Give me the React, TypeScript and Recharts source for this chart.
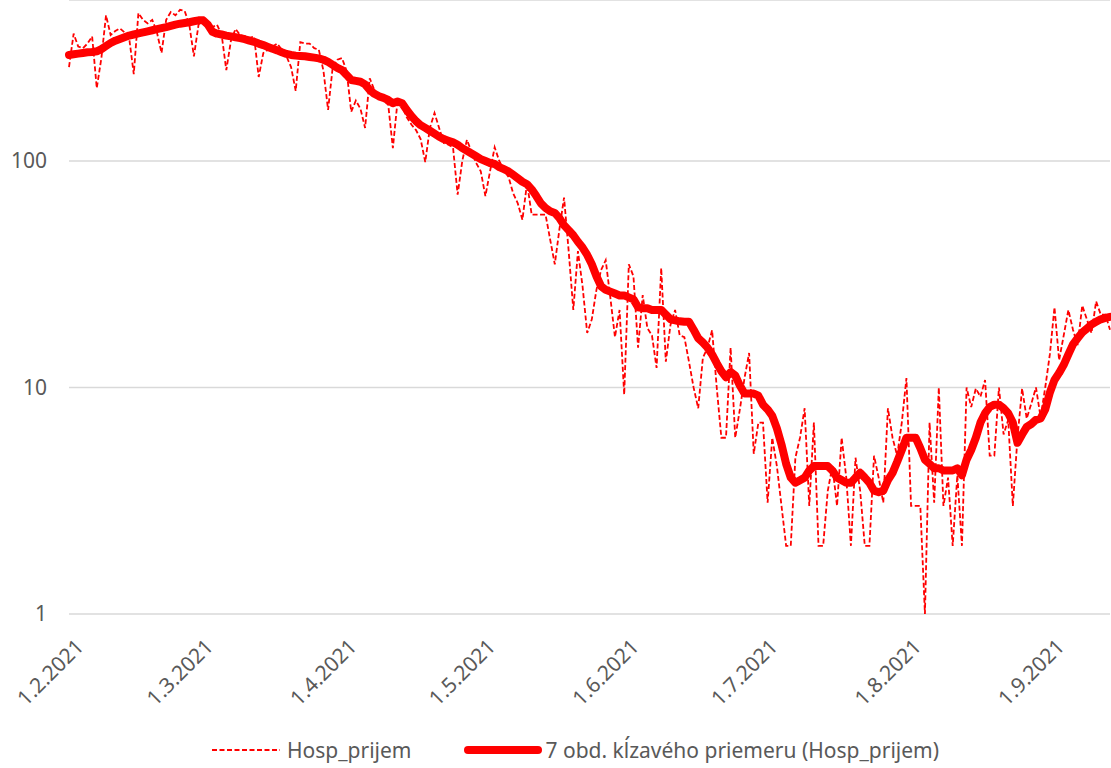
import { LineChart, Line, XAxis, YAxis, CartesianGrid } from "recharts";

// 1.2.2021 = day 0
const tickDays = [0, 28, 59, 89, 120, 150, 181, 212];
const tickLabels = ["1.2.2021", "1.3.2021", "1.4.2021", "1.5.2021", "1.6.2021", "1.7.2021", "1.8.2021", "1.9.2021"];
const yTicks = [1, 10, 100];

const hospPrijem = [
  260, 365, 320, 315, 330, 355, 210, 285, 440, 360, 375, 385, 370, 350, 242, 450, 420, 405, 420, 370,
  300, 420, 455, 440, 465, 460, 400, 290, 400, 428, 400, 390, 400, 360, 252, 340, 383, 360, 355, 350,
  355, 235, 300, 310, 320, 330, 310, 290, 260, 204, 335, 330, 330, 315, 310, 250, 168, 260, 280, 285,
  250, 165, 185, 170, 140, 232, 206, 195, 185, 177, 114, 183, 175, 156, 145, 137, 125, 99, 140, 163,
  140, 120, 118, 115, 71, 100, 124, 110, 98, 90, 70, 90, 115, 100, 91, 85, 72, 65, 55, 80,
  58, 58, 58, 58, 45, 35, 50, 69, 40, 22, 40, 28, 17.4, 20, 27, 33, 36.5, 25, 16.7, 22,
  9.3, 35, 31, 15, 25.6, 18.3, 17, 12.2, 33.7, 13, 18.9, 22, 17, 16.7, 13, 10, 8.1, 13.5, 15, 17.9,
  10, 6, 6, 15, 6, 8, 11, 14.2, 5.1, 7, 7, 3.1, 6, 4.5, 3, 2, 2, 4.9, 6, 8.1,
  3, 7, 2, 2, 3.5, 4.5, 3, 6, 4, 2, 4.9, 3.5, 2, 2, 5, 4, 3.1, 8.1, 6, 5,
  7, 11, 3, 3, 3, 1, 7, 3.1, 10, 3, 4, 2, 4.1, 2, 10, 8.2, 9.9, 9.1, 10.8, 5,
  5, 10, 6.2, 7.2, 3, 6, 9.9, 7.3, 8.5, 10, 7.4, 10, 14, 22.6, 13.2, 17, 22, 18, 15.4, 23,
  20, 17.4, 24, 21, 21, 18,
];

const klzavyPriemer = [
  294, 296, 298, 300, 302, 303, 305, 312, 322, 332, 340, 346, 352, 358, 362, 366, 370, 374, 378, 382,
  386, 390, 395, 400, 404, 407, 410, 414, 418, 418, 400, 372, 365, 362, 358, 355, 352, 349, 345, 340,
  336, 330, 325, 319, 313, 308, 302, 297, 294, 292, 291, 290, 288, 286, 284, 280, 274, 266, 258, 252,
  240, 228, 226, 224, 218, 206, 198, 193, 190, 186, 180, 183, 180, 168, 158, 150, 144, 140, 136, 132,
  128, 125, 123, 121, 118, 114, 111, 108, 105, 102, 100, 98, 97, 94, 92, 90, 87, 84, 81, 79,
  75, 70, 65, 62, 60, 59, 56, 52, 49.5, 47, 44, 41.5, 38.5, 35, 31, 28, 27, 26.5, 26, 25.5,
  25.5, 25, 24.5, 22.6, 22.4, 22.4, 22, 22, 22, 21, 20, 19.8, 19.6, 19.5, 19.5, 18, 16.5, 15.8, 15, 14,
  12.8, 11.8, 11.1, 11.7, 11.3, 10.2, 9.4, 9.4, 9.4, 9.2, 8.4, 8.0, 7.5, 6.6, 5.6, 4.6, 4.0, 3.8, 3.9, 4.0,
  4.3, 4.5, 4.5, 4.5, 4.5, 4.3, 4.0, 3.9, 3.8, 3.8, 4.0, 4.2, 4.0, 3.8, 3.5, 3.45, 3.5, 3.9, 4.2, 4.7,
  5.3, 6.0, 6.0, 6.0, 5.4, 4.8, 4.6, 4.4, 4.4, 4.3, 4.3, 4.3, 4.4, 4.1, 4.8, 5.3, 6.0, 7.0, 7.7, 8.2,
  8.4, 8.4, 8.1, 7.7, 7.0, 5.7, 6.2, 6.7, 6.9, 7.2, 7.3, 8.0, 9.5, 10.8, 11.6, 12.6, 14.0, 15.5, 16.5, 17.5,
  18.2, 19.0, 19.5, 20.0, 20.3, 20.5,
];

const data = hospPrijem.map((v, i) => ({ day: i, hosp: v, avg: klzavyPriemer[i] }));

const FONT = "'Noto Sans', sans-serif";
const TEXT = "#595959";
const RED = "#ff0000";

function DateTick(props: any) {
  const { x, y, payload } = props;
  const label = tickLabels[tickDays.indexOf(payload.value)] ?? "";
  const ax = x + 16;
  const ay = y + 26;
  return (
    <text
      x={ax}
      y={ay}
      transform={`rotate(-45, ${ax}, ${ay})`}
      textAnchor="end"
      fill={TEXT}
      fontSize={21}
      fontFamily={FONT}
    >
      {label}
    </text>
  );
}

function ValueTick(props: any) {
  const { x, y, payload } = props;
  return (
    <text x={x} y={y} dy="0.35em" textAnchor="end" fill={TEXT} fontSize={21} fontFamily={FONT}>
      {payload.value}
    </text>
  );
}

export default function App() {
  return (
    <div style={{ position: "absolute", left: 0, top: 0, width: 1111, height: 768, background: "#fff" }}>
      <LineChart width={1111} height={768} data={data} margin={{ top: 0, right: 1, bottom: 0, left: 0 }}>
        <CartesianGrid vertical={false} stroke="#d9d9d9" strokeWidth={1.5} />
        <XAxis
          dataKey="day"
          type="number"
          domain={[0, 225]}
          ticks={tickDays}
          interval={0}
          height={154}
          axisLine={false}
          tickLine={false}
          tick={<DateTick />}
        />
        <YAxis
          type="number"
          scale="log"
          domain={[1, 514]}
          allowDataOverflow
          ticks={yTicks}
          interval={0}
          width={69}
          axisLine={false}
          tickLine={false}
          tickMargin={16}
          tick={<ValueTick />}
        />
        <Line
          type="linear"
          dataKey="hosp"
          stroke={RED}
          strokeWidth={1.8}
          strokeDasharray="5 2.5"
          dot={false}
          isAnimationActive={false}
        />
        <Line
          type="linear"
          dataKey="avg"
          stroke={RED}
          strokeWidth={8}
          strokeLinejoin="round"
          strokeLinecap="round"
          dot={false}
          isAnimationActive={false}
        />
      </LineChart>
      <div
        style={{
          position: "absolute",
          top: 736,
          left: 211,
          display: "flex",
          alignItems: "center",
          fontFamily: FONT,
          fontSize: 21,
          color: TEXT,
          whiteSpace: "nowrap",
        }}
      >
        <svg width={70} height={10} style={{ marginRight: 6 }}>
          <line x1={1} y1={5} x2={69} y2={5} stroke={RED} strokeWidth={1.8} strokeDasharray="5 2.5" />
        </svg>
        <span>Hosp_prijem</span>
        <svg width={80} height={12} style={{ marginLeft: 52, marginRight: 2 }}>
          <line x1={5} y1={6} x2={75} y2={6} stroke={RED} strokeWidth={8} strokeLinecap="round" />
        </svg>
        <span>7 obd. kĺzavého priemeru (Hosp_prijem)</span>
      </div>
    </div>
  );
}
